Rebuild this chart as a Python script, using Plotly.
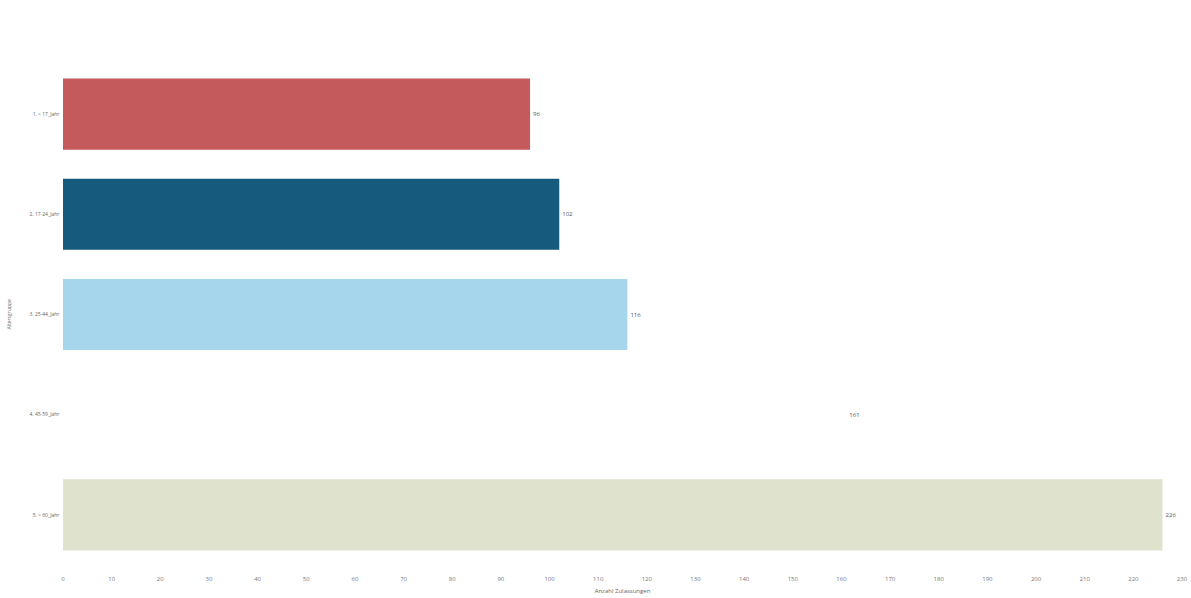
import plotly.graph_objects as go

categories = ["1. < 17_Jahr", "2. 17-24_Jahr", "3. 25-44_Jahr", "4. 45-59_Jahr", "5. > 60_Jahr"]
values = [96, 102, 116, 161, 226]
colors = ["#c45a5c", "#165a7e", "#a6d6ec", "#ffffff", "#dfe3cd"]
x_ticks = list(range(0, 240, 10))

fig = go.Figure(
    go.Bar(
        x=values,
        y=categories,
        orientation="h",
        marker=dict(color=colors, line=dict(width=0)),
        text=[str(v) for v in values],
        textposition="outside",
        textfont=dict(size=6, color="#555555", family="Open Sans"),
        cliponaxis=False,
    )
)

fig.update_layout(
    width=1191,
    height=598,
    margin=dict(l=63, r=9, t=64, b=33),
    paper_bgcolor="white",
    plot_bgcolor="white",
    bargap=0.29,
    showlegend=False,
    font=dict(family="Open Sans", size=6, color="#666666"),
    annotations=[
        dict(
            text="Altersgruppe",
            xref="paper", yref="paper",
            x=0, y=0.5,
            xanchor="center",
            xshift=-55,
            textangle=-90,
            showarrow=False,
            font=dict(size=5, color="#666666"),
        )
    ],
)
fig.update_xaxes(
    range=[0, 230],
    tickvals=x_ticks,
    showgrid=False,
    zeroline=False,
    showline=False,
    automargin=False,
    ticks="outside",
    ticklen=8,
    tickcolor="rgba(0,0,0,0)",
    tickfont=dict(size=6, color="#777777"),
    title=dict(text="Anzahl Zulassungen", font=dict(size=6, color="#666666"), standoff=6),
)
fig.update_yaxes(
    autorange="reversed",
    showgrid=False,
    zeroline=False,
    showline=False,
    automargin=False,
    tickfont=dict(size=5, color="#666666"),
    ticksuffix="  ",
)

fig.write_html(
    "out.html",
    config={"displayModeBar": False},
    post_script="document.body.style.margin='0';document.body.style.overflow='hidden';",
)
